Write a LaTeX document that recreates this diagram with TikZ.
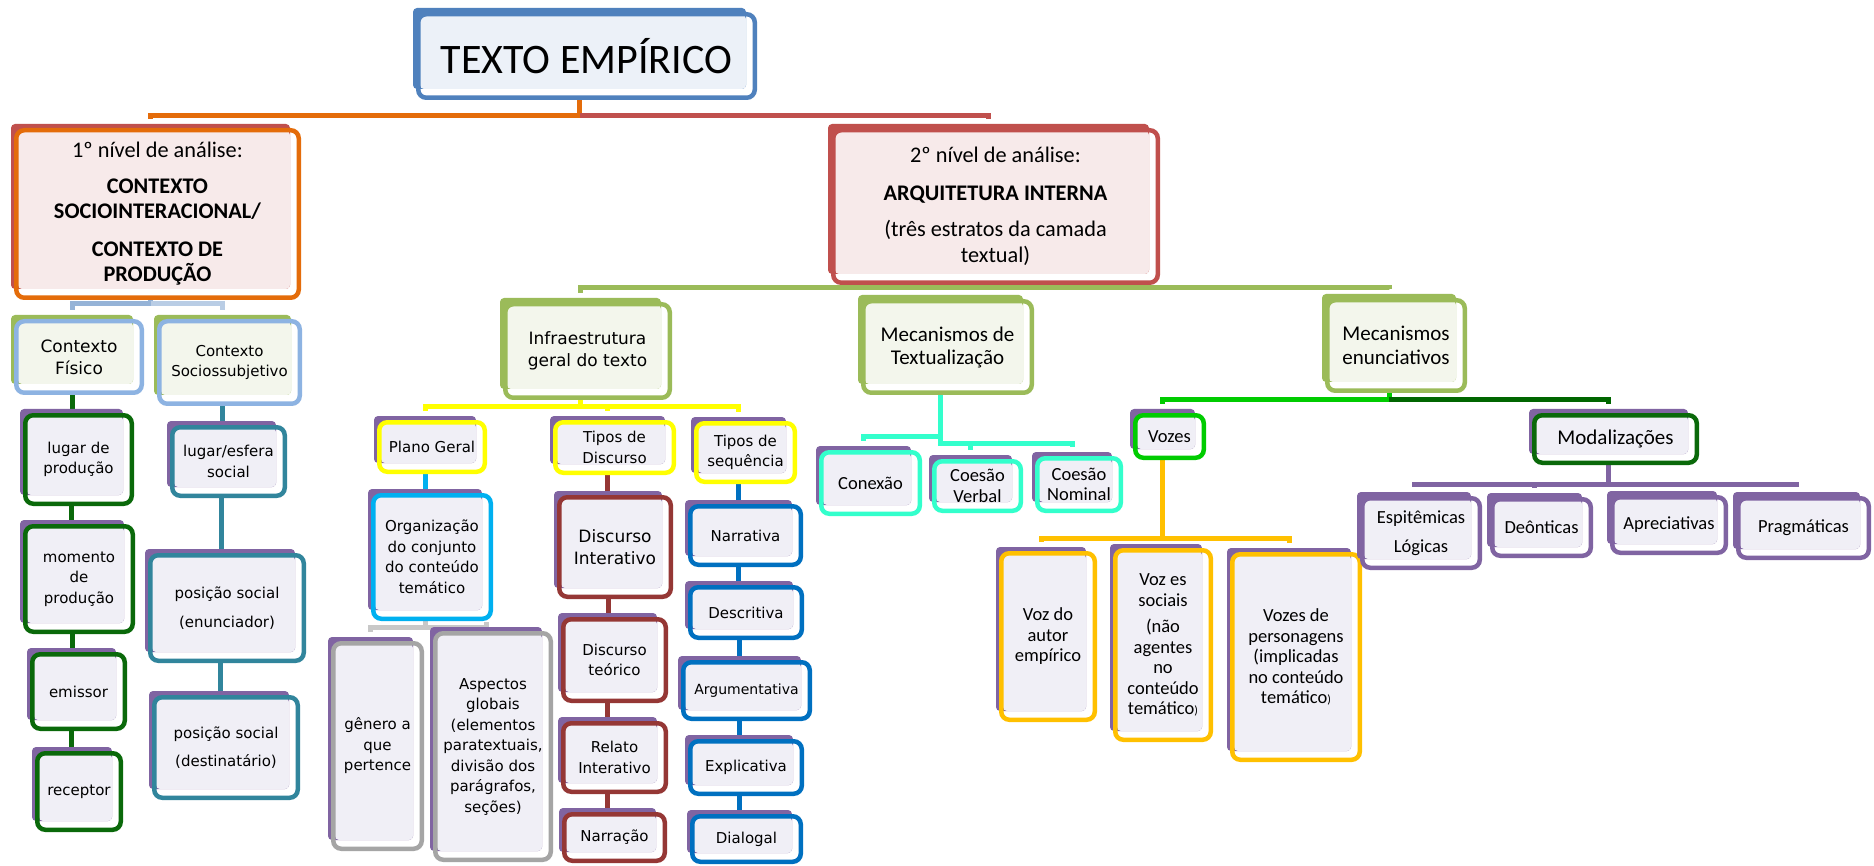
\documentclass[tikz,border=0pt]{standalone}
\usepackage{fontspec}
\newfontfamily\fcal{Carlito}
\newfontfamily\fver{DejaVu Sans}
\usetikzlibrary{backgrounds}
\definecolor{cBlue}{HTML}{4F81BD}
\definecolor{cBlueFill}{HTML}{ECF1F8}
\definecolor{cOrange}{HTML}{E46C0A}
\definecolor{cRed}{HTML}{C0504D}
\definecolor{cPink}{HTML}{F7EAEA}
\definecolor{cGreen}{HTML}{9BBB59}
\definecolor{cGreenFill}{HTML}{F3F6EC}
\definecolor{cLtBlue}{HTML}{8DB3E2}
\definecolor{cBusA}{HTML}{95B3D7}
\definecolor{cBusB}{HTML}{B9CDE5}
\definecolor{cDG}{HTML}{0A690A}
\definecolor{cDGbus}{HTML}{006600}
\definecolor{cTeal}{HTML}{31859C}
\definecolor{cPurple}{HTML}{8064A2}
\definecolor{cLav}{HTML}{F0EFF6}
\definecolor{cYellow}{HTML}{FFFF00}
\definecolor{cCyan}{HTML}{00B0F0}
\definecolor{cGray}{HTML}{A5A5A5}
\definecolor{cGrayBus}{HTML}{C8C8C8}
\definecolor{cMaroon}{HTML}{953735}
\definecolor{cSeq}{HTML}{0070C0}
\definecolor{cAqua}{HTML}{33FFCC}
\definecolor{cBrGreen}{HTML}{00CC00}
\definecolor{cAmber}{HTML}{FFC000}
\newcommand\smbox[9]{%
  \pgfmathsetmacro\bxw{#4-#2-4.5}%
  \pgfmathsetmacro\bxh{#5-#3-4.5}%
  \pgfmathsetmacro\bxcx{(#2+#4)/2}%
  \pgfmathsetmacro\bxcy{(#3+#5)/2}%
  \fill[#7,rounded corners=4pt] ({#2-3},{#3-4}) rectangle ({#4-11},{#5-11});
  \fill[#8,rounded corners=4pt] ({#2+4},{#3+3}) rectangle ({#4-11},{#5-11});
  \node[bxs,#6,minimum width=\bxw pt,minimum height=\bxh pt] (#1) at (\bxcx,\bxcy) {#9};
  \coordinate (#1-s) at ([xshift=-7pt]#1.south);
  \coordinate (#1-n) at ([xshift=-7pt,yshift=9pt]#1.north);
}
\begin{document}
\begin{tikzpicture}[x=1pt,y=-1pt,
  bxs/.style={line width=4.5pt, rounded corners=8pt, inner sep=1pt, align=center, text=black},
  ln/.style={line width=5pt, line cap=butt, line join=miter},
  v14/.style={font=\fver\fontsize{14}{19}\selectfont},
  v15/.style={font=\fver\fontsize{15}{20.5}\selectfont},
  v17/.style={font=\fver\fontsize{17}{22}\selectfont},
  c18/.style={font=\fcal\fontsize{18.5}{20.5}\selectfont},
  c21/.style={font=\fcal\fontsize{21}{23}\selectfont},
  c21b/.style={font=\fcal\fontsize{21}{24.5}\selectfont},
  c21t/.style={font=\fcal\fontsize{22.3}{25.5}\selectfont},
  c42/.style={font=\fcal\fontsize{42}{50}\selectfont}]
\useasboundingbox (0,0) rectangle (1874,866);

% top levels
\smbox{ttl}{416}{12}{757}{100}{draw=cBlue,c42}{cBlue}{cBlueFill}{TEXTO EMPÍRICO}
\smbox{lv1}{14}{128}{301}{300}{draw=cOrange,c21t}{cRed}{cPink}{1º nível de análise:\\[10pt]\textbf{CONTEXTO}\\\textbf{SOCIOINTERACIONAL/}\\[12pt]\textbf{CONTEXTO DE}\\\textbf{PRODUÇÃO}}
\smbox{lv2}{831}{128}{1160}{285}{draw=cRed,c21t}{cRed}{cPink}{2º nível de análise:\\[12pt]\textbf{ARQUITETURA INTERNA}\\[11pt](três estratos da camada\\textual)}

% left branch
\smbox{cf}{14}{319}{144}{395}{draw=cLtBlue,v17}{cGreen}{cGreenFill}{Contexto\\Físico}
\smbox{cs}{157}{319}{302}{406}{draw=cLtBlue,v15}{cGreen}{cGreenFill}{Contexto\\Sociossubjetivo}
\smbox{lp}{23}{413}{134}{506}{draw=cDG,v15}{cPurple}{cLav}{lugar de\\produção}
\smbox{mp}{23}{524}{135}{634}{draw=cDG,v15}{cPurple}{cLav}{momento\\de\\produção}
\smbox{em}{30}{652}{127}{731}{draw=cDG,v15}{cPurple}{cLav}{emissor}
\smbox{rc}{35}{751}{123}{832}{draw=cDG,v15}{cPurple}{cLav}{receptor}
\smbox{le}{170}{425}{287}{498}{draw=cTeal,v15}{cPurple}{cLav}{lugar/esfera\\social}
\smbox{pe}{148}{553}{306}{663}{draw=cTeal,v15}{cPurple}{cLav}{posição social\\[8pt](enunciador)}
\smbox{pd}{152}{695}{300}{800}{draw=cTeal,v15}{cPurple}{cLav}{posição social\\[8pt](destinatário)}

% level 3
\smbox{inf}{503}{302}{672}{400}{draw=cGreen,v17}{cGreen}{cGreenFill}{Infraestrutura\\geral do texto}
\smbox{mt}{861}{299}{1034}{395}{draw=cGreen,c21}{cGreen}{cGreenFill}{Mecanismos de\\Textualização}
\smbox{me}{1325}{298}{1467}{393}{draw=cGreen,c21b}{cGreen}{cGreenFill}{Mecanismos\\enunciativos}

% infraestrutura branch
\smbox{pg}{377}{420}{487}{474}{draw=cYellow,v15}{cPurple}{cLav}{Plano Geral}
\smbox{td}{553}{420}{676}{475}{draw=cYellow,v15}{cPurple}{cLav}{Tipos de\\Discurso}
\smbox{ts}{694}{421}{797}{484}{draw=cYellow,v15}{cPurple}{cLav}{Tipos de\\sequência}
\smbox{og}{371}{493}{493}{621}{draw=cCyan,v15}{cPurple}{cLav}{Organização\\do conjunto\\do conteúdo\\temático}
\smbox{gn}{331}{641}{424}{851}{draw=cGray,v15}{cPurple}{cLav}{gênero a\\que\\pertence}
\smbox{ag}{433}{631}{553}{862}{draw=cGray,v15}{cPurple}{cLav}{Aspectos\\globais\\(elementos\\paratextuais,\\divisão dos\\parágrafos,\\seções)}
\smbox{di}{557}{495}{673}{599}{draw=cMaroon,v17}{cPurple}{cLav}{Discurso\\Interativo}
\smbox{dt}{561}{617}{668}{703}{draw=cMaroon,v15}{cPurple}{cLav}{Discurso\\teórico}
\smbox{ri}{561}{721}{668}{794}{draw=cMaroon,v15}{cPurple}{cLav}{Relato\\Interativo}
\smbox{na}{562}{812}{667}{863}{draw=cMaroon,v15}{cPurple}{cLav}{Narração}
\smbox{nv}{688}{504}{803}{567}{draw=cSeq,v15}{cPurple}{cLav}{Narrativa}
\smbox{de}{688}{585}{804}{640}{draw=cSeq,v15}{cPurple}{cLav}{Descritiva}
\smbox{ar}{681}{660}{812}{721}{draw=cSeq,v14}{cPurple}{cLav}{Argumentativa}
\smbox{ex}{688}{739}{804}{796}{draw=cSeq,v15}{cPurple}{cLav}{Explicativa}
\smbox{dl}{690}{814}{803}{864}{draw=cSeq,v15}{cPurple}{cLav}{Dialogal}

% textualizacao branch
\smbox{cx}{819}{450}{922}{516}{draw=cAqua,c18}{cPurple}{cLav}{Conexão}
\smbox{cv}{932}{459}{1023}{513}{draw=cAqua,c18}{cPurple}{cLav}{Coesão\\Verbal}
\smbox{cn}{1035}{456}{1123}{513}{draw=cAqua,c18}{cPurple}{cLav}{Coesão\\Nominal}

% enunciativos branch
\smbox{vz}{1133}{413}{1206}{460}{draw=cBrGreen,c18}{cPurple}{cLav}{Vozes}
\smbox{va}{999}{551}{1097}{722}{draw=cAmber,c18}{cPurple}{cLav}{Voz do\\autor\\empírico}
\smbox{vs}{1113}{548}{1213}{742}{draw=cAmber,c18}{cPurple}{cLav}{Voz es\\sociais\\[6pt](não\\agentes\\no\\conteúdo\\temático{\fontsize{12}{12}\selectfont)}}
\smbox{vp}{1230}{552}{1362}{762}{draw=cAmber,c18}{cPurple}{cLav}{Vozes de\\personagens\\(implicadas\\no conteúdo\\temático{\fontsize{12}{12}\selectfont)}}
\smbox{md}{1532}{413}{1699}{465}{draw=cDG,c21}{cPurple}{cLav}{Modalizações}
\smbox{ep}{1360}{496}{1482}{570}{draw=cPurple,c18}{cPurple}{cLav}{Espitêmicas\\[8pt]Lógicas}
\smbox{dn}{1490}{497}{1593}{558}{draw=cPurple,c18}{cPurple}{cLav}{Deônticas}
\smbox{ap}{1610}{495}{1728}{555}{draw=cPurple,c18}{cPurple}{cLav}{Apreciativas}
\smbox{pr}{1736}{496}{1871}{560}{draw=cPurple,c18}{cPurple}{cLav}{Pragmáticas}

\begin{pgfonlayer}{background}
\fill[white] (0,0) rectangle (1874,866);
% title bus
\draw[ln,cOrange] (ttl-s) -- (ttl-s |- 0,116) -| (lv1-n);
\draw[ln,cRed] (ttl-s |- 0,116) -| (lv2-n);
% level 1 bus
\draw[ln,cBusA] (lv1-s) -- (lv1-s |- 0,304) -| (cf-n);
\draw[ln,cBusB] (lv1-s |- 0,304) -| (cs-n);
% level 2 bus
\draw[ln,cGreen] (lv2-s) -- (lv2-s |- 0,288);
\draw[ln,cGreen] (inf-n) |- (me-n |- 0,288) -- (me-n);
\draw[ln,cGreen] (mt-n |- 0,288) -- (mt-n);
% infraestrutura bus
\draw[ln,cYellow] (inf-s) -- (inf-s |- 0,407);
\draw[ln,cYellow] (pg-n) |- (ts-n |- 0,407) -- (ts-n);
\draw[ln,cYellow] (td-n |- 0,407) -- (td-n);
% textualizacao bus
\draw[ln,cAqua] (mt-s) -- (mt-s |- 0,443) -| (cn-n);
\draw[ln,cAqua] (mt-s |- 0,436) -| (cx-n);
\draw[ln,cAqua] (cv-n |- 0,443) -- (cv-n);
% enunciativos bus
\draw[ln,cBrGreen] (me-s) -- (me-s |- 0,400) -| (vz-n);
\draw[ln,cDGbus] (me-s |- 0,400) -| (md-n);
% vozes bus
\draw[ln,cAmber] (vz-s) -- (vz-s |- 0,538) -| (va-n);
\draw[ln,cAmber] (vz-s |- 0,538) -| (vp-n);
\draw[ln,cAmber] (vs-n |- 0,538) -- (vs-n);
% modalizacoes bus
\draw[ln,cPurple] (md-s) -- (md-s |- 0,484) -| (ep-n);
\draw[ln,cPurple] (md-s |- 0,484) -| (pr-n);
\draw[ln,cPurple] (dn-n |- 0,484) -- (dn-n);
\draw[ln,cPurple] (ap-n |- 0,484) -- (ap-n);
% organizacao bus
\draw[ln,cGrayBus] (og-s) -- (og-s |- 0,627) -| (gn-n);
\draw[ln,cGrayBus] (og-s |- 0,627) -| (ag-n);
% chains
\foreach \a/\b in {cf/lp, lp/mp, mp/em, em/rc} \draw[ln,cDG] (\a-s) -- (\a-s |- \b.north);
\foreach \a/\b in {cs/le, le/pe, pe/pd} \draw[ln,cTeal] (\a-s) -- (\a-s |- \b.north);
\draw[ln,cCyan] (pg-s) -- (pg-s |- og.north);
\foreach \a/\b in {td/di, di/dt, dt/ri, ri/na} \draw[ln,cMaroon] (\a-s) -- (\a-s |- \b.north);
\foreach \a/\b in {ts/nv, nv/de, de/ar, ar/ex, ex/dl} \draw[ln,cSeq] (\a-s) -- (\a-s |- \b.north);
\end{pgfonlayer}
\end{tikzpicture}
\end{document}
